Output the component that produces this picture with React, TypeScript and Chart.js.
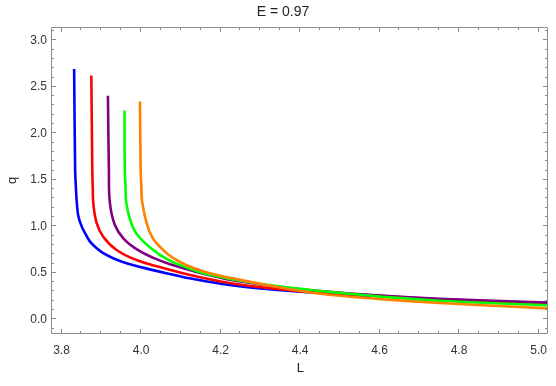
import React, { useEffect, useRef } from "react";
import { Chart, registerables } from "chart.js";

Chart.register(...registerables);

const titleText = "E = 0.97";
const xTitle = "L";
const yTitle = "q";

const xTicks = [3.8, 4.0, 4.2, 4.4, 4.6, 4.8, 5.0];
const yTicks = [0.0, 0.5, 1.0, 1.5, 2.0, 2.5, 3.0];
const xMinorStep = 0.05;
const yMinorStep = 0.1;
const xMin = 3.776;
const xMax = 5.025;
const yMin = -0.158;
const yMax = 3.144;

const blueL = [3.8317, 3.8342, 3.836, 3.8385, 3.8425, 3.8509, 3.8592, 3.8717, 3.8884, 3.9049, 3.9299, 3.9634, 4.0048, 4.0466, 4.1215, 4.2004, 4.2806, 4.4005, 4.5999, 4.75, 5.0233];
const blueQ = [2.692, 1.608, 1.428, 1.249, 1.105, 0.997, 0.926, 0.836, 0.765, 0.711, 0.657, 0.603, 0.556, 0.513, 0.441, 0.383, 0.339, 0.296, 0.248, 0.214, 0.168];

const redL = [3.8749, 3.8774, 3.8784, 3.8799, 3.8884, 3.9049, 3.9384, 3.9883, 4.0466, 4.1215, 4.2004, 4.2806, 4.4005, 4.5999, 4.75, 5.0233];
const redQ = [2.623, 1.608, 1.428, 1.249, 1.034, 0.889, 0.746, 0.638, 0.563, 0.479, 0.407, 0.355, 0.303, 0.252, 0.216, 0.172];

const purpleL = [3.9167, 3.9191, 3.9216, 3.9341, 3.9566, 3.9916, 4.0341, 4.0716, 4.1215, 4.154, 4.2004, 4.2502, 4.3498, 4.45, 4.5999, 4.75, 5.0233];
const purpleQ = [2.404, 1.608, 1.252, 1.015, 0.865, 0.746, 0.655, 0.595, 0.531, 0.493, 0.447, 0.407, 0.348, 0.305, 0.256, 0.221, 0.179];

const greenL = [3.9584, 3.9591, 3.9609, 3.9629, 3.9741, 3.9891, 4.0241, 4.0666, 4.1215, 4.1547, 4.2004, 4.2381, 4.3498, 4.45, 4.5999, 4.75, 5.0233];
const greenQ = [2.246, 1.608, 1.428, 1.252, 1.048, 0.918, 0.768, 0.644, 0.547, 0.499, 0.455, 0.423, 0.352, 0.305, 0.246, 0.199, 0.152];

const orangeL = [3.9973, 3.999, 4.0008, 4.0028, 4.0153, 4.029, 4.049, 4.0666, 4.089, 4.1165, 4.154, 4.1965, 4.2381, 4.3213, 4.4462, 4.5961, 4.75, 5.0233];
const orangeQ = [2.342, 1.608, 1.428, 1.263, 1.015, 0.875, 0.773, 0.703, 0.639, 0.579, 0.52, 0.472, 0.434, 0.364, 0.278, 0.219, 0.176, 0.118];

const seriesColors = ["#0000FF", "#FF0000", "#800080", "#00FF00", "#FF8000"];

const FONT = "'Liberation Sans', Arial, sans-serif";
const frameColor = "#8c8c8c";

const framePlugin = {
  id: "mmaFrame",
  afterDatasetsDraw(chart: any) {
    const { ctx, chartArea, scales } = chart;
    const xs = scales.x;
    const ys = scales.y;
    const l = Math.floor(chartArea.left) - 0.5;
    const r = Math.floor(chartArea.right) - 0.5;
    const t = Math.floor(chartArea.top) + 0.5;
    const b = Math.floor(chartArea.bottom) - 0.5;
    ctx.save();
    ctx.strokeStyle = frameColor;
    ctx.lineWidth = 1;
    ctx.beginPath();
    ctx.rect(l, t, r - l, b - t);
    ctx.stroke();
    const major = 4.5;
    const minor = 2.5;
    ctx.beginPath();
    const startX = Math.ceil(xMin / xMinorStep);
    const endX = Math.floor(xMax / xMinorStep);
    for (let i = startX; i <= endX; i++) {
      const v = i * xMinorStep;
      const isMajor = xTicks.some((tv) => Math.abs(tv - v) < 1e-6);
      const len = isMajor ? major : minor;
      const px = Math.round(xs.getPixelForValue(v)) - 0.5;
      ctx.moveTo(px, b);
      ctx.lineTo(px, b - len);
      ctx.moveTo(px, t);
      ctx.lineTo(px, t + len);
    }
    const startY = Math.ceil(yMin / yMinorStep);
    const endY = Math.floor(yMax / yMinorStep);
    for (let i = startY; i <= endY; i++) {
      const v = i * yMinorStep;
      const isMajor = yTicks.some((tv) => Math.abs(tv - v) < 1e-6);
      const len = isMajor ? major : minor;
      const py = Math.round(ys.getPixelForValue(v)) - 0.5;
      ctx.moveTo(l, py);
      ctx.lineTo(l + len, py);
      ctx.moveTo(r, py);
      ctx.lineTo(r - len, py);
    }
    ctx.stroke();
    ctx.restore();
  },
};

export default function App() {
  const ref = useRef<HTMLCanvasElement | null>(null);
  useEffect(() => {
    if (!ref.current) return;
    const mk = (L: number[], Q: number[], color: string, order: number) => ({
      data: L.map((x, i) => ({ x, y: Q[i] })),
      borderColor: color,
      backgroundColor: color,
      borderWidth: 2.6,
      pointRadius: 0,
      fill: false,
      tension: 0.4,
      order,
    });
    const chart = new Chart(ref.current, {
      type: "line",
      data: {
        datasets: [
          mk(blueL, blueQ, seriesColors[0], 5),
          mk(redL, redQ, seriesColors[1], 4),
          mk(purpleL, purpleQ, seriesColors[2], 3),
          mk(greenL, greenQ, seriesColors[3], 2),
          mk(orangeL, orangeQ, seriesColors[4], 1),
        ],
      },
      options: {
        responsive: false,
        animation: false,
        events: [],
        layout: { padding: { top: 0, right: 4, bottom: 0, left: 14 } },
        plugins: {
          legend: { display: false },
          tooltip: { enabled: false },
          title: {
            display: true,
            text: titleText,
            fullSize: true,
            color: "#222",
            font: { family: FONT, size: 14, weight: "normal" },
            padding: { top: 4, bottom: 6.2 },
          },
        },
        scales: {
          x: {
            type: "linear",
            min: xMin,
            max: xMax,
            grid: { display: false, drawTicks: false },
            border: { display: false },
            afterBuildTicks: (s: any) => {
              s.ticks = xTicks.map((v) => ({ value: v }));
            },
            afterFit: (s: any) => {
              s.height = 52;
            },
            ticks: {
              padding: 9,
              color: "#333",
              font: { family: FONT, size: 12 },
              maxRotation: 0,
              autoSkip: false,
              callback: (v: any) => Number(v).toFixed(1),
            },
            title: {
              display: true,
              text: xTitle,
              color: "#222",
              font: { family: FONT, size: 13 },
              padding: { top: 10, bottom: 10 },
            },
          },
          y: {
            type: "linear",
            min: yMin,
            max: yMax,
            grid: { display: false, drawTicks: false },
            border: { display: false },
            afterBuildTicks: (s: any) => {
              s.ticks = yTicks.map((v) => ({ value: v }));
            },
            afterFit: (s: any) => {
              s.width = 38;
            },
            ticks: {
              padding: 5,
              color: "#333",
              font: { family: FONT, size: 12 },
              autoSkip: false,
              callback: (v: any) => Number(v).toFixed(1),
            },
            title: {
              display: true,
              text: yTitle,
              color: "#222",
              font: { family: FONT, size: 13 },
              padding: { top: -9, bottom: 0 },
            },
          },
        },
      },
      plugins: [framePlugin],
    });
    return () => chart.destroy();
  }, []);
  return (
    <div style={{ position: "fixed", left: 0, top: 0, width: 556, height: 386, background: "#fff" }}>
      <canvas ref={ref} width={556} height={386} style={{ width: 556, height: 386, display: "block" }} />
    </div>
  );
}
